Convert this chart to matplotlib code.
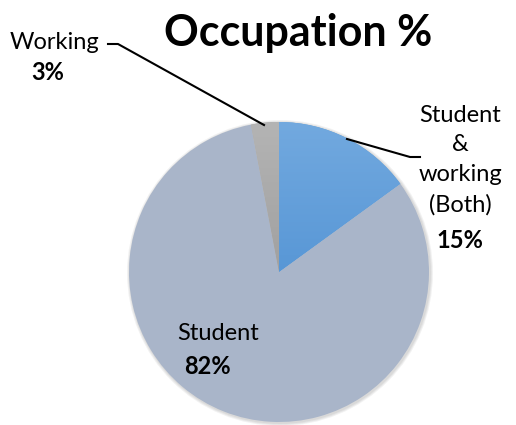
import numpy as np
import matplotlib.pyplot as plt
from matplotlib.patches import Circle
from matplotlib.colors import LinearSegmentedColormap

# data
labels = ['Student\n&\nworking\n(Both)', 'Student', 'Working']
values = [15, 82, 3]
pct_text = ['15%', '82%', '3%']
colors = ['#5B9BD5', '#A9B5C9', '#A5A5A5']

plt.rcParams['font.family'] = ['Lato', 'DejaVu Sans']

fig = plt.figure(figsize=(5.16, 4.25), dpi=100)
ax = fig.add_axes([0, 0, 1, 1])

cx, cy, r = 279, 425 - 272, 150

# soft shadow
for i in range(3):
    ax.add_patch(Circle((cx + 1, cy - 1), r + 1 + i, color='black', alpha=0.05, lw=0, zorder=0))

wedges, _ = ax.pie(values, colors=colors, startangle=90, counterclock=False,
                   center=(cx, cy), radius=r, frame=True,
                   wedgeprops=dict(linewidth=0))
ax.set_xlim(0, 516)
ax.set_ylim(0, 425)
ax.set_aspect('equal')
ax.axis('off')

# gradient on blue and gray wedges
grad = np.linspace(0, 1, 256).reshape(-1, 1)
cmap_b = LinearSegmentedColormap.from_list('b', ['#3E85CD', '#72A9DF'])
cmap_g = LinearSegmentedColormap.from_list('g', ['#8C8C8C', '#B4B4B4'])
for w, cm in [(wedges[0], cmap_b), (wedges[2], cmap_g)]:
    im = ax.imshow(grad, cmap=cm, extent=[cx - r, cx + r, cy - r, cy + r],
                   origin='lower', aspect='auto', zorder=w.get_zorder() + 0.1)
    im.set_clip_path(w)

fs = 17
ax.text(298, 425 - 33, 'Occupation %', fontsize=31, fontweight='bold',
        ha='center', va='center')

# Working label
ax.text(55, 425 - 42, 'Working', fontsize=fs, ha='center', va='center')
ax.text(48, 425 - 72, pct_text[2], fontsize=fs, fontweight='bold', ha='center', va='center')
ax.plot([108, 118, 264], [425 - 44, 425 - 44, 425 - 125], color='black', lw=1.5)

# Both label
ax.text(460, 425 - 160, labels[0], fontsize=fs, ha='center', va='center',
        linespacing=1.5)
ax.text(460, 425 - 240, pct_text[0], fontsize=fs, fontweight='bold', ha='center', va='center')
ax.plot([347, 410, 420], [425 - 139, 425 - 157, 425 - 157], color='black', lw=1.5)

# Student label
ax.text(218, 425 - 333, labels[1], fontsize=fs, ha='center', va='center')
ax.text(207, 425 - 367, pct_text[1], fontsize=fs, fontweight='bold', ha='center', va='center')

fig.savefig('out.png', dpi=100)
